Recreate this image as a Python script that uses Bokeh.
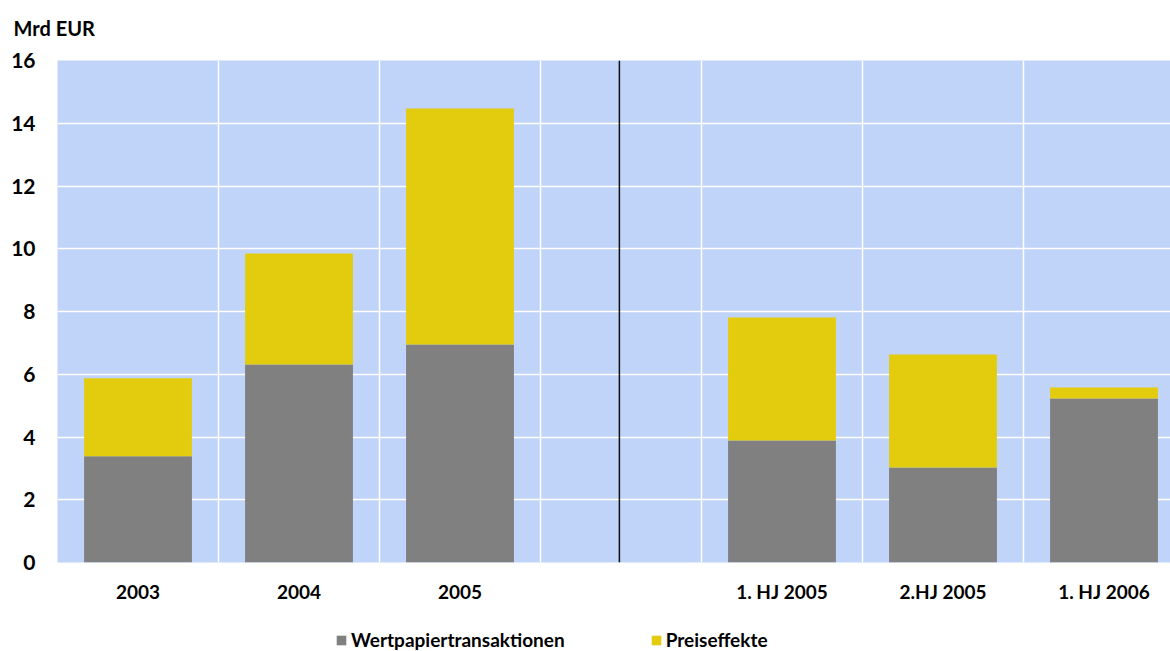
from bokeh.plotting import figure
from bokeh.layouts import column
from bokeh.models import (ColumnDataSource, FixedTicker, Range1d, Span, Legend,
                          LegendItem, Label)
from bokeh.embed import file_html
from bokeh.resources import INLINE

# Categories (slot 4 is a gap separating annual and half-year figures)
categories = ["2003", "2004", "2005", "", "1. HJ 2005", "2.HJ 2005", "1. HJ 2006"]
wertpapiertransaktionen = [3.39, 6.31, 6.95, None, 3.89, 3.03, 5.23]
preiseffekte = [2.48, 3.54, 7.52, None, 3.92, 3.60, 0.35]
series_names = ["Wertpapiertransaktionen", "Preiseffekte"]
unit_label = "Mrd EUR"
y_ticks = [0, 2, 4, 6, 8, 10, 12, 14, 16]
divider_at = 3.49

GRAY = "#808080"
YELLOW = "#E3CC0E"
BG = "#C0D3F8"
FONT = "Lato"
FS = "19px"

idx = [i for i, c in enumerate(categories) if c]
x = [i + 0.5 for i in idx]
base = [wertpapiertransaktionen[i] for i in idx]
top = [wertpapiertransaktionen[i] + preiseffekte[i] for i in idx]
src = ColumnDataSource(dict(x=x, base=base, top=top))


def strip(height):
    # axis-free strip whose data units equal pixels
    f = figure(width=1170, height=height, output_backend="svg",
               toolbar_location=None, x_range=Range1d(0, 1170),
               y_range=Range1d(0, height), min_border=0,
               x_axis_location=None, y_axis_location=None,
               outline_line_color=None, background_fill_color="white")
    f.grid.visible = False
    if hasattr(f, "frame_align"):
        f.frame_align = False
    return f


# unit label strip above the chart
head = strip(40)
head.add_layout(Label(x=13, y=13, text=unit_label, text_font=FONT,
                      text_font_style="bold", text_font_size="20px",
                      text_color="black", text_baseline="middle"))

p = figure(width=1170, height=571, output_backend="svg", toolbar_location=None,
           x_range=Range1d(0, 6.913), y_range=Range1d(0, 16),
           min_border_left=57, min_border_right=0, min_border_top=20,
           min_border_bottom=49, background_fill_color=BG,
           border_fill_color="white", outline_line_color=None)

p.vbar(x="x", width=0.67, bottom=0, top="base", source=src,
       fill_color=GRAY, line_color=None)
p.vbar(x="x", width=0.67, bottom="base", top="top", source=src,
       fill_color=YELLOW, line_color=None)

p.add_layout(Span(location=divider_at, dimension="height", line_color="#111111",
                  line_width=1.5))

# grids
p.xgrid.ticker = FixedTicker(ticks=[1, 2, 3, 4, 5, 6])
p.ygrid.ticker = FixedTicker(ticks=y_ticks)
for g in (p.xgrid, p.ygrid):
    g.grid_line_color = "white"
    g.grid_line_width = 1.5
    g.level = "underlay"

# axes
p.xaxis.ticker = FixedTicker(ticks=x)
p.xaxis.major_label_overrides = {xx: categories[i] for xx, i in zip(x, idx)}
p.yaxis.ticker = FixedTicker(ticks=y_ticks)
for ax in (p.xaxis, p.yaxis):
    ax.axis_line_color = None
    ax.major_tick_line_color = None
    ax.minor_tick_line_color = None
    ax.major_label_text_font = FONT
    ax.major_label_text_font_style = "bold"
    ax.major_label_text_font_size = FS
    ax.major_label_text_color = "black"
p.yaxis.major_label_text_font_size = "21px"
p.xaxis.major_label_standoff = 11
p.yaxis.major_label_standoff = 16

# legend strip underneath the chart; swatch renderers are hidden
lg = strip(40)
sw_grey = lg.vbar(x="x", top="base", width=0.67, source=src,
                  fill_color=GRAY, line_color=None, visible=False)
sw_yel = lg.vbar(x="x", top="top", width=0.67, source=src,
                 fill_color=YELLOW, line_color=None, visible=False)
legend = Legend(items=[LegendItem(label=series_names[0], renderers=[sw_grey]),
                       LegendItem(label=series_names[1], renderers=[sw_yel])],
                orientation="horizontal", location=(335, 0),
                glyph_width=12, glyph_height=12, label_standoff=4,
                spacing=85, padding=0, margin=0, border_line_color=None,
                background_fill_alpha=0, inactive_fill_alpha=0,
                label_text_font=FONT,
                label_text_font_style="bold", label_text_font_size=FS,
                label_text_color="black", label_height=20)
lg.add_layout(legend, "center")

open("out.html", "w").write(file_html(column(head, p, lg, spacing=0), INLINE))
